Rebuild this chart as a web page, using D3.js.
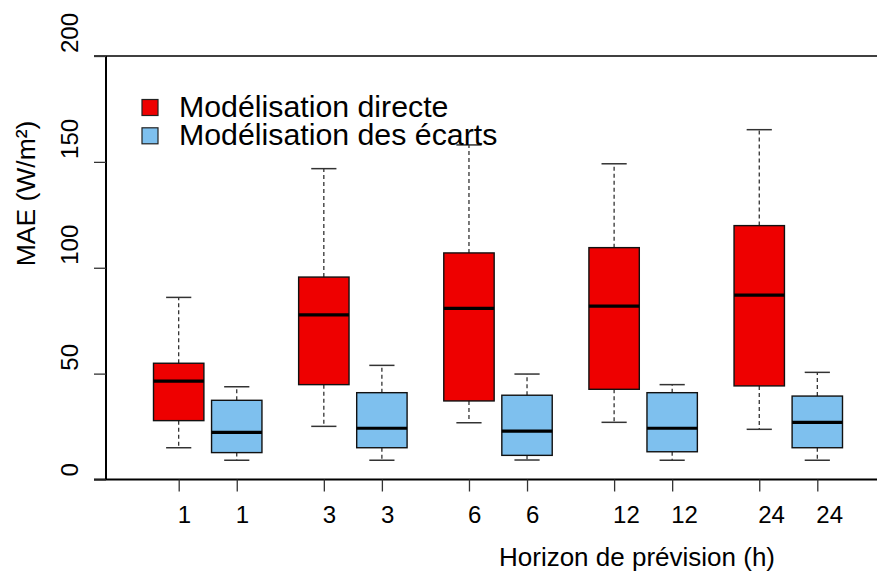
<!DOCTYPE html>
<html><head><meta charset="utf-8">
<script src="https://cdn.jsdelivr.net/npm/d3@7"></script>
<style>body{margin:0;background:#fff}svg{display:block}text{font-family:"Liberation Sans",Arial,sans-serif;fill:#000}</style>
</head><body><svg id="c" width="877" height="572"></svg>
<script>
const horizons = ["1","3","6","12","24"];
const seriesNames = ["Modélisation directe","Modélisation des écarts"];
const seriesColors = ["#EE0000","#7EC0EE"];
// [lower whisker, Q1, median, Q3, upper whisker]
const directe = [
  [15.0, 27.8, 46.5, 54.9, 86.0],
  [25.1, 44.8, 77.7, 95.6, 146.8],
  [26.8, 37.1, 80.8, 107.0, 158.0],
  [27.0, 42.6, 81.9, 109.5, 149.1],
  [23.7, 44.2, 87.1, 119.9, 165.2]
];
const ecarts = [
  [9.1, 12.7, 22.3, 37.4, 43.8],
  [9.1, 15.0, 24.2, 41.0, 53.9],
  [9.2, 11.4, 22.8, 39.8, 49.8],
  [9.1, 13.1, 24.2, 41.0, 44.8],
  [9.1, 15.0, 27.0, 39.4, 50.6]
];
const positions = [1, 2, 3.5, 4.5, 6, 7, 8.5, 9.5, 11, 12];
const yTicks = [0, 50, 100, 150, 200];

const svg = d3.select("#c");
const x = d3.scaleLinear().domain([1, 12]).range([178.7, 817.3]);
const y = d3.scaleLinear().domain([0, 200]).range([479.5, 56]);
const halfW = 0.434, capW = 0.217;

const boxes = [];
horizons.forEach((h, i) => {
  boxes.push({label: h, pos: positions[2*i], v: directe[i], color: seriesColors[0]});
  boxes.push({label: h, pos: positions[2*i+1], v: ecarts[i], color: seriesColors[1]});
});

// frame lines
svg.append("line").attr("x1", 94).attr("x2", 877).attr("y1", y(200)).attr("y2", y(200)).attr("stroke", "#000").attr("stroke-width", 1.6);
svg.append("line").attr("x1", 94).attr("x2", 877).attr("y1", y(0)).attr("y2", y(0)).attr("stroke", "#000").attr("stroke-width", 2);
svg.append("line").attr("x1", 106).attr("x2", 106).attr("y1", y(200)).attr("y2", y(0)).attr("stroke", "#000").attr("stroke-width", 2);

// y axis
const yAxis = d3.axisLeft(y).tickValues(yTicks).tickSize(12).tickFormat("");
const ga = svg.append("g").attr("transform", "translate(106,0)").call(yAxis);
ga.select(".domain").remove();
ga.selectAll(".tick line").attr("stroke", "#333").attr("stroke-width", 1.3);
yTicks.forEach(t => {
  svg.append("text").attr("transform", `translate(78,${y(t) - 3}) rotate(-90)`)
    .attr("text-anchor", "start").attr("font-size", 24).text(t);
});

// x axis ticks
const xAxis = d3.axisBottom(x).tickValues(positions).tickSize(12).tickFormat("");
const gx = svg.append("g").attr("transform", `translate(0,${y(0)})`).call(xAxis);
gx.select(".domain").remove();
gx.selectAll(".tick line").attr("stroke", "#333").attr("stroke-width", 1.3);
boxes.forEach(b => {
  svg.append("text").attr("x", x(b.pos) - 1).attr("y", 523).attr("text-anchor", "start")
    .attr("font-size", 24).text(b.label);
});

// boxes
const g = svg.append("g");
boxes.forEach(b => {
  const cx = x(b.pos), x0 = x(b.pos - halfW), x1 = x(b.pos + halfW);
  const c0 = x(b.pos - capW), c1 = x(b.pos + capW);
  const [lo, q1, med, q3, hi] = b.v;
  g.append("line").attr("x1", cx).attr("x2", cx).attr("y1", y(q3)).attr("y2", y(hi))
    .attr("stroke", "#222").attr("stroke-width", 1.2).attr("stroke-dasharray", "4,3");
  g.append("line").attr("x1", cx).attr("x2", cx).attr("y1", y(q1)).attr("y2", y(lo))
    .attr("stroke", "#222").attr("stroke-width", 1.2).attr("stroke-dasharray", "4,3");
  g.append("line").attr("x1", c0).attr("x2", c1).attr("y1", y(hi)).attr("y2", y(hi))
    .attr("stroke", "#333").attr("stroke-width", 1.5);
  g.append("line").attr("x1", c0).attr("x2", c1).attr("y1", y(lo)).attr("y2", y(lo))
    .attr("stroke", "#333").attr("stroke-width", 1.5);
  g.append("rect").attr("x", x0).attr("y", y(q3)).attr("width", x1 - x0).attr("height", y(q1) - y(q3))
    .attr("fill", b.color).attr("stroke", "#111").attr("stroke-width", 1.4);
  g.append("line").attr("x1", x0).attr("x2", x1).attr("y1", y(med)).attr("y2", y(med))
    .attr("stroke", "#000").attr("stroke-width", 3.2);
});

// legend
seriesNames.forEach((n, i) => {
  svg.append("rect").attr("x", 142).attr("y", 99.5 + i * 28.3).attr("width", 16).attr("height", 16)
    .attr("fill", seriesColors[i]).attr("stroke", "#222").attr("stroke-width", 1.2);
  svg.append("text").attr("x", 179).attr("y", 117 + i * 28.3).attr("font-size", 30.3).text(n);
});

// axis titles
svg.append("text").attr("x", 637).attr("y", 566).attr("text-anchor", "middle").attr("font-size", 26)
  .text("Horizon de prévision (h)");
svg.append("text").attr("transform", "translate(35,193.5) rotate(-90)").attr("text-anchor", "middle")
  .attr("font-size", 26.5).text("MAE (W/m²)");
</script></body></html>
